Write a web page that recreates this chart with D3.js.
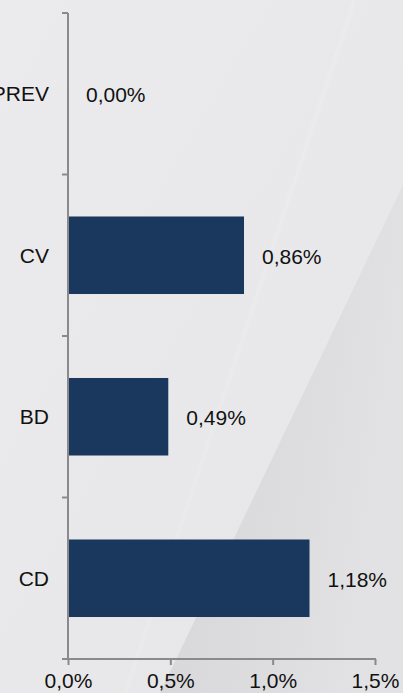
<!DOCTYPE html>
<html>
<head>
<meta charset="utf-8">
<script src="https://cdn.jsdelivr.net/npm/d3@7"></script>
<style>
  html, body { margin: 0; padding: 0; background: #e9e9eb; }
  svg { display: block; }
  text { font-family: "Liberation Sans", Arial, sans-serif; fill: #111; }
</style>
</head>
<body>
<svg id="chart" width="403" height="693"></svg>
<script>
// Portfolio categories and their shares (percent)
const categories = ["PREV", "CV", "BD", "CD"];
const values = [0.00, 0.86, 0.49, 1.18];
const valueLabels = ["0,00%", "0,86%", "0,49%", "1,18%"];
const xTicks = [0, 0.5, 1.0, 1.5];
const xTickLabels = ["0,0%", "0,5%", "1,0%", "1,5%"];

const W = 403, H = 693;
const margin = { left: 68, right: 28, top: 13, bottom: 34 };
const fontSize = 21;
const svg = d3.select("#chart");

// Background: soft grey with a darker diagonal sheet on the lower right
const defs = svg.append("defs");
const bg = defs.append("linearGradient").attr("id", "bg")
  .attr("x1", "0").attr("y1", "0").attr("x2", "1").attr("y2", "1");
bg.append("stop").attr("offset", "0").attr("stop-color", "#ebebed");
bg.append("stop").attr("offset", "1").attr("stop-color", "#e6e6e8");
const sheet = defs.append("linearGradient").attr("id", "sheet")
  .attr("x1", "0").attr("y1", "0").attr("x2", "1").attr("y2", "0.3");
sheet.append("stop").attr("offset", "0").attr("stop-color", "#d6d6d9");
sheet.append("stop").attr("offset", "0.6").attr("stop-color", "#dcdcdf");
sheet.append("stop").attr("offset", "1").attr("stop-color", "#e2e2e4");

svg.append("rect").attr("width", W).attr("height", H).attr("fill", "url(#bg)");
svg.append("path")
  .attr("d", `M403,185 L160,693 L403,693 Z`)
  .attr("fill", "url(#sheet)");
// faint highlight streak
svg.append("path")
  .attr("d", `M352,0 L357,0 L128,693 L123,693 Z`)
  .attr("fill", "#f1f1f3").attr("opacity", 0.22);

const x = d3.scaleLinear()
  .domain([0, 1.5])
  .range([margin.left, W - margin.right]);

const y = d3.scaleBand()
  .domain(categories)
  .range([margin.top, H - margin.bottom])
  .paddingInner(0.52)
  .paddingOuter(0.26);

const gap = y.step() - y.bandwidth();

// Bars
svg.append("g").selectAll("rect")
  .data(categories)
  .join("rect")
  .attr("x", x(0))
  .attr("y", d => y(d))
  .attr("width", (d, i) => x(values[i]) - x(0))
  .attr("height", y.bandwidth())
  .attr("fill", "#1a375e");

// Value labels
svg.append("g").selectAll("text")
  .data(categories)
  .join("text")
  .attr("x", (d, i) => x(values[i]) + 18)
  .attr("y", d => y(d) + y.bandwidth() / 2)
  .attr("dy", "0.4em")
  .attr("font-size", fontSize)
  .text((d, i) => valueLabels[i]);

// Category axis
const axisColor = "#8a8a8a";
const yTop = y(categories[0]) - gap / 2;
const yBottom = y(categories[categories.length - 1]) + y.bandwidth() + gap / 2;
const gy = svg.append("g");
gy.append("line")
  .attr("x1", x(0)).attr("x2", x(0))
  .attr("y1", yTop).attr("y2", yBottom + 1)
  .attr("stroke", axisColor).attr("stroke-width", 2);
gy.selectAll("line.tick")
  .data(categories)
  .join("line").attr("class", "tick")
  .attr("x1", x(0) - 6).attr("x2", x(0))
  .attr("y1", d => y(d) - gap / 2)
  .attr("y2", d => y(d) - gap / 2)
  .attr("stroke", axisColor).attr("stroke-width", 2);
gy.selectAll("text")
  .data(categories)
  .join("text")
  .attr("x", x(0) - 19)
  .attr("y", d => y(d) + y.bandwidth() / 2)
  .attr("dy", "0.36em")
  .attr("text-anchor", "end")
  .attr("font-size", fontSize)
  .text(d => d);

// Value axis
const xAxis = d3.axisBottom(x)
  .tickValues(xTicks)
  .tickSize(6)
  .tickPadding(8)
  .tickFormat((d, i) => xTickLabels[i]);
const gx = svg.append("g")
  .attr("transform", `translate(0,${yBottom})`)
  .call(xAxis);
gx.select(".domain").remove();
gx.append("line")
  .attr("x1", x(0) - 6).attr("x2", x(1.5) + 1)
  .attr("y1", 0).attr("y2", 0)
  .attr("stroke", axisColor).attr("stroke-width", 2);
gx.selectAll(".tick line").attr("stroke", axisColor).attr("stroke-width", 2);
gx.selectAll(".tick text")
  .attr("font-size", fontSize)
  .attr("font-family", "Liberation Sans, Arial, sans-serif")
  .attr("fill", "#111");
</script>
</body>
</html>
